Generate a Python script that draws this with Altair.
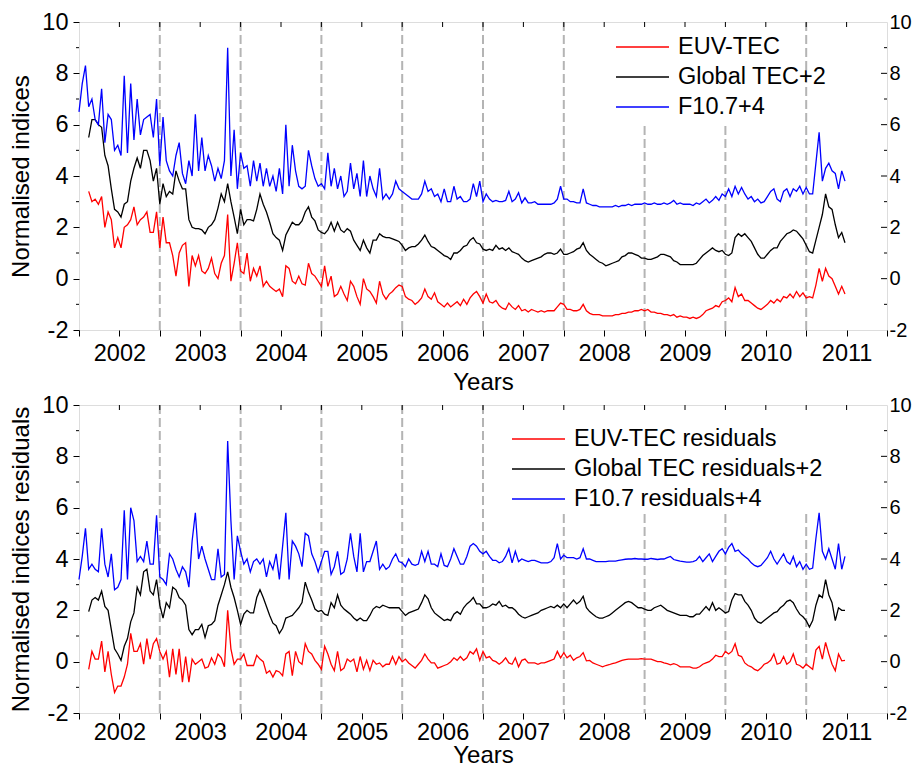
import altair as alt
import pandas as pd

# ---------------- data ----------------
START, STEP = 2002.0, 0.04   # sampling grid of the series (fractional years)

N = None
euv_tec = [
    N, N, N, 3.4, 3.0, 3.1, 2.9, 3.2, 2.0, 2.6,
    2.3, 1.2, 1.6, 1.2, 2.0, 2.1, 2.3, 2.8, 2.1, 2.3,
    2.4, 2.6, 1.8, 1.8, 2.6, 1.2, 2.4, 1.4, 1.4, 0.9,
    0.1, 1.0, 1.3, 1.4, -0.3, 0.9, 0.5, 0.9, 0.3, 0.2,
    0.4, 0.8, 0.2, 0.0, 0.6, 0.9, 2.5, -0.1, 0.6, 1.4,
    0.3, 0.2, 1.0, -0.1, 0.4, 0.1, 0.5, -0.3, -0.1, -0.3,
    -0.4, -0.5, -0.4, -0.7, 0.5, 0.4, -0.1, -0.2, 0.1, -0.2,
    -0.25, 0.6, 0.2, 0.1, -0.1, -0.3, 0.5, -0.3, 0.1, -0.7,
    -0.6, -0.3, -0.6, -0.85, -0.1, -0.3, -0.7, -1.0, 0.0, -0.4,
    -0.5, -0.7, -0.95, -0.1, -0.6, -0.8, -0.6, -0.5, -0.35, -0.25,
    -0.3, -0.7, -0.8, -0.85, -1.0, -0.9, -0.75, -0.4, -0.7, -0.8,
    -0.55, -0.9, -1.0, -1.1, -0.95, -1.1, -1.0, -0.9, -1.05, -0.8,
    -1.0, -0.75, -0.6, -0.5, -0.7, -0.95, -0.6, -0.9, -0.95, -0.85,
    -1.05, -1.15, -1.2, -0.95, -1.1, -1.2, -1.05, -1.25, -1.2, -1.3,
    -1.2, -1.25, -1.3, -1.25, -1.3, -1.25, -1.25, -1.25, -1.1, -0.95,
    -1.0, -1.2, -1.2, -1.25, -1.25, -1.2, -1.0, -1.25, -1.35, -1.4,
    -1.4, -1.4, -1.45, -1.45, -1.45, -1.45, -1.4, -1.4, -1.35, -1.35,
    -1.3, -1.3, -1.25, -1.25, -1.2, -1.25, -1.2, -1.3, -1.3, -1.35,
    -1.35, -1.4, -1.4, -1.45, -1.4, -1.5, -1.45, -1.5, -1.5, -1.55,
    -1.5, -1.55, -1.5, -1.4, -1.25, -1.2, -1.15, -1.05, -1.1, -0.9,
    -0.85, -0.75, -0.9, -0.35, -0.7, -0.6, -0.85, -0.85, -0.95, -1.05,
    -1.15, -1.2, -1.1, -1.0, -0.85, -0.95, -0.8, -0.9, -0.7, -0.75,
    -0.6, -0.75, -0.5, -0.7, -0.55, -0.75, -0.7, -0.75, -0.25, 0.4,
    -0.1, 0.4, 0.1, 0.0, -0.3, -0.6, -0.3, -0.6,
]

global_tec_p2 = [
    N, N, N, 5.5, 6.2, 6.2, 6.0, 5.9, 4.8, 4.4,
    3.5, 2.7, 2.6, 2.4, 2.9, 3.0, 3.8, 4.3, 4.7, 4.3,
    5.0, 5.0, 4.6, 3.8, 4.3, 2.9, 3.7, 3.2, 3.4, 3.3,
    4.2, 3.8, 3.5, 3.5, 2.3, 2.0, 1.95, 1.95, 1.9, 1.75,
    2.0, 2.1, 2.3, 2.75, 3.3, 3.0, 3.7, 3.0, 2.4, 1.75,
    2.7, 2.1, 2.3, 2.3, 2.25, 2.7, 3.3, 2.9, 2.6, 2.2,
    1.75, 1.6, 1.5, 1.1, 1.7, 1.95, 2.2, 2.1, 2.1, 2.25,
    2.6, 2.8, 2.4, 2.25, 1.9, 1.8, 1.75, 1.9, 2.2, 1.85,
    2.2, 1.9, 1.8, 1.95, 1.85, 1.5, 1.3, 1.1, 1.5, 1.2,
    1.0, 1.5, 1.5, 1.75, 1.65, 1.6, 1.6, 1.55, 1.5, 1.45,
    1.3, 1.1, 1.2, 1.25, 1.25, 1.35, 1.5, 1.7, 1.45, 1.25,
    1.2, 1.1, 1.0, 0.9, 0.85, 0.75, 1.0, 1.0, 1.1, 1.25,
    1.3, 1.5, 1.6, 1.4, 1.35, 1.15, 1.1, 1.15, 1.1, 1.3,
    1.15, 1.2, 1.1, 1.2, 1.05, 1.0, 0.95, 0.8, 0.7, 0.65,
    0.7, 0.75, 0.8, 0.85, 0.95, 1.0, 1.0, 0.95, 1.0, 1.15,
    0.95, 0.95, 1.0, 1.05, 1.15, 1.2, 1.4, 1.1, 0.95, 0.85,
    0.75, 0.65, 0.6, 0.5, 0.55, 0.6, 0.65, 0.7, 0.85, 0.9,
    1.0, 1.0, 0.95, 0.9, 0.8, 0.8, 0.75, 0.75, 0.8, 0.85,
    0.95, 0.95, 0.9, 0.85, 0.7, 0.65, 0.55, 0.55, 0.55, 0.55,
    0.55, 0.6, 0.75, 0.9, 1.0, 1.1, 1.2, 1.1, 1.05, 1.1,
    0.95, 0.9, 1.0, 1.6, 1.75, 1.65, 1.75, 1.6, 1.45, 1.2,
    0.95, 0.8, 0.8, 0.95, 1.1, 1.2, 1.2, 1.45, 1.6, 1.75,
    1.8, 1.9, 1.85, 1.7, 1.55, 1.3, 1.05, 1.0, 1.5, 2.0,
    2.5, 3.3, 2.8, 2.7, 2.1, 1.6, 1.8, 1.4,
]

f107_p4 = [
    6.5, 7.6, 8.3, 6.7, 7.0, 6.2, 6.0, 7.4, 5.3, 6.4,
    6.2, 5.0, 5.2, 4.8, 7.9, 4.9, 7.6, 5.4, 7.0, 5.6,
    6.2, 6.3, 6.4, 5.5, 7.0, 4.4, 6.3, 4.6, 4.2, 4.0,
    4.8, 5.3, 4.1, 3.7, 4.6, 4.0, 6.4, 4.2, 5.5, 4.2,
    4.8, 4.4, 3.8, 4.3, 3.9, 4.6, 9.0, 4.0, 5.8, 3.5,
    4.9, 4.3, 4.4, 3.6, 4.6, 3.8, 4.5, 3.6, 4.3, 3.6,
    4.0, 3.4, 4.3, 3.3, 6.0, 3.6, 5.2, 4.2, 3.6, 3.5,
    3.6, 5.0, 4.4, 3.9, 3.6, 3.7, 3.5, 4.9, 3.6, 4.3,
    3.5, 4.0, 3.2, 3.4, 4.5, 3.5, 4.1, 3.2, 4.6, 3.2,
    4.0, 3.5, 3.2, 4.3, 3.1, 3.3, 3.1, 3.3, 3.8, 3.5,
    3.4, 3.3, 3.2, 3.1, 3.1, 3.1, 3.3, 3.8, 3.4, 3.5,
    3.2, 3.3, 3.0, 3.5, 3.0, 3.0, 3.6, 3.1, 3.2, 3.0,
    3.0, 3.1, 3.7, 3.2, 3.8, 3.0, 3.3, 3.1, 3.0, 3.05,
    3.0, 3.0, 3.05, 3.4, 3.0, 3.1, 3.35, 2.95, 3.15, 2.95,
    2.95, 3.0, 2.9, 2.9, 2.9, 2.9, 2.9, 2.95, 3.1, 3.6,
    3.1, 3.1, 3.0, 3.0, 2.95, 2.95, 3.5, 2.95, 2.9, 2.85,
    2.85, 2.8, 2.8, 2.8, 2.8, 2.8, 2.85, 2.8, 2.85, 2.85,
    2.9, 2.85, 2.9, 2.9, 2.9, 2.95, 2.9, 2.9, 2.95, 2.9,
    2.9, 2.95, 2.9, 2.95, 3.05, 2.9, 2.95, 2.9, 2.9, 2.9,
    2.85, 2.95, 2.9, 3.0, 3.1, 2.95, 3.05, 3.2, 3.05, 3.3,
    3.2, 3.5, 3.2, 3.6, 3.3, 3.55, 3.3, 3.1, 3.2, 3.0,
    3.1, 2.95, 3.0, 3.2, 3.4, 3.5, 3.1, 3.0, 3.4, 3.5,
    3.2, 3.5, 3.4, 3.6, 3.3, 3.55, 3.3, 3.3, 4.5, 5.7,
    3.8, 4.3, 4.5, 4.2, 4.1, 3.5, 4.2, 3.8,
]

euv_res = [
    N, N, N, -0.3, 0.4, 0.1, 0.1, 0.8, -0.4, 0.4,
    -0.5, -1.2, -0.95, -0.95, -0.6, -0.1, 1.1, 0.4, 0.4, 0.7,
    -0.1, 0.9, 0.1, 0.7, 0.9, 0.4, 0.1, 0.4, -0.6, 0.5,
    -0.5, 0.5, -0.8, 0.2, -0.8, 0.1, -0.1, 0.0, 0.1, -0.25,
    -0.2, 0.15, -0.1, 0.3, 0.15, -0.2, 2.0, 0.5, -0.1, 0.1,
    0.1, 0.3, -0.15, -0.15, -0.15, 0.25, 0.1, 0.0, -0.45, -0.35,
    -0.6, -0.35, -0.4, -0.55, 0.3, 0.4, -0.55, 0.4, 0.0, -0.1,
    0.7, 0.4, 0.3, 0.05, -0.1, -0.3, 0.6, 0.3, -0.1, -0.35,
    0.4, -0.35, -0.25, 0.1, 0.0, 0.1, -0.4, 0.2, -0.3, 0.05,
    -0.35, 0.05, -0.1, -0.05, -0.2, -0.1, -0.1, 0.2, -0.1, 0.2,
    0.0, 0.1, -0.05, -0.15, -0.25, -0.1, 0.05, 0.3, 0.1, -0.05,
    -0.05, -0.25, -0.2, -0.15, -0.1, 0.0, 0.15, 0.05, 0.2, 0.05,
    0.15, 0.4, 0.3, 0.5, 0.05, 0.4, 0.15, 0.2, 0.05, 0.0,
    -0.1, 0.0, 0.15, -0.05, -0.1, 0.15, -0.2, 0.05, 0.1, -0.05,
    -0.05, -0.05, -0.1, -0.05, -0.05, 0.0, 0.05, 0.1, 0.4, 0.15,
    0.35, 0.15, 0.25, 0.05, 0.15, 0.2, 0.35, 0.03, 0.05, -0.05,
    -0.1, -0.15, -0.2, -0.15, -0.12, -0.08, -0.05, 0.0, 0.05, 0.08,
    0.1, 0.1, 0.1, 0.1, 0.12, 0.1, 0.1, 0.1, 0.05, 0.0,
    0.0, -0.05, -0.08, -0.12, -0.08, -0.12, -0.2, -0.2, -0.2, -0.2,
    -0.25, -0.25, -0.2, -0.1, -0.05, 0.0, 0.1, 0.25, 0.2, 0.2,
    0.4, 0.3, 0.4, 0.7, 0.25, 0.2, -0.05, -0.15, -0.2, -0.3,
    -0.35, -0.25, -0.1, -0.05, 0.05, 0.3, -0.1, -0.05, 0.2, -0.1,
    0.0, 0.3, -0.1, -0.15, -0.25, -0.1, -0.2, -0.3, 0.45, 0.6,
    0.1, 0.75, 0.3, -0.1, -0.35, 0.3, 0.03, 0.05,
]

gtec_res_p2 = [
    N, N, N, 1.95, 2.4, 2.5, 2.4, 2.75, 2.15, 2.0,
    1.25, 0.5, 0.3, 0.05, 0.6, 0.9, 1.55, 1.9, 2.9, 2.6,
    3.5, 3.6, 2.75, 2.6, 3.2, 2.2, 1.7, 2.3, 2.1, 2.9,
    2.8, 2.5, 2.4, 2.2, 1.25, 1.05, 1.25, 1.25, 1.45, 0.94,
    1.4, 1.45, 1.6, 2.2, 2.6, 3.0, 3.5, 2.9, 2.5, 2.0,
    1.45, 1.85, 2.0, 1.9, 1.9, 2.5, 2.8, 2.5, 2.15, 1.8,
    1.5, 1.4, 1.1, 1.3, 1.7, 1.75, 1.8, 1.95, 2.1, 2.3,
    3.1, 2.7, 2.4, 2.05, 1.95, 2.0, 1.85, 1.8, 2.3, 2.1,
    2.6, 2.2, 2.05, 1.95, 1.85, 1.7, 1.6, 1.7, 1.6, 1.6,
    1.8, 2.05, 2.15, 2.1, 2.2, 2.15, 2.1, 2.1, 2.1, 2.1,
    1.95, 1.8, 1.9, 1.95, 2.0, 2.05, 2.3, 2.6, 2.45, 2.1,
    1.9, 1.8, 1.7, 1.6, 1.65, 1.6, 1.85, 1.95, 1.85, 2.1,
    2.25, 2.35, 2.5, 2.25, 2.25, 2.1, 2.1, 2.15, 2.25, 2.2,
    2.35, 2.15, 2.2, 2.1, 2.1, 2.0, 1.85, 1.75, 1.7, 1.75,
    1.8, 1.85, 1.9, 2.0, 2.05, 2.1, 2.15, 2.1, 2.2, 2.1,
    2.25, 2.1, 2.25, 2.4, 2.25, 2.35, 2.55, 2.1, 1.95, 1.85,
    1.75, 1.7, 1.7, 1.75, 1.8, 1.9, 2.0, 2.1, 2.2, 2.3,
    2.35, 2.3, 2.2, 2.1, 2.1, 2.05, 2.0, 2.0, 2.1, 2.15,
    2.2, 2.1, 2.0, 1.95, 1.9, 1.85, 1.8, 1.8, 1.8, 1.75,
    1.75, 1.85, 1.85, 2.0, 2.15, 2.0, 2.3, 2.0, 2.1, 2.0,
    1.9, 1.95, 2.4, 2.65, 2.6, 2.6, 2.35, 2.2, 2.0, 1.7,
    1.55, 1.5, 1.6, 1.7, 1.8, 1.9, 1.95, 2.1, 2.2, 2.35,
    2.4, 2.3, 2.05, 1.85, 1.75, 1.6, 1.35, 1.6, 2.2, 2.6,
    2.5, 3.2, 2.6, 2.3, 1.6, 2.1, 2.0, 2.0,
]

f107_res_p4 = [
    3.2, 4.1, 5.2, 3.6, 3.8, 3.6, 3.5, 5.2, 3.8, 3.3,
    4.2, 2.8, 2.9, 3.2, 5.9, 3.2, 6.0, 5.5, 3.9, 4.1,
    3.9, 4.7, 3.8, 3.8, 5.7, 3.3, 3.2, 3.0, 4.2, 4.0,
    3.6, 3.3, 3.7, 3.5, 2.9, 4.7, 5.8, 4.0, 4.5, 4.0,
    3.6, 3.2, 3.2, 4.4, 3.3, 3.4, 8.6, 5.5, 3.2, 4.9,
    4.3, 3.8, 4.0, 3.5, 3.9, 4.0, 3.8, 4.0, 3.3, 3.9,
    3.6, 4.2, 3.2, 4.5, 5.8, 3.2, 4.7, 4.5, 4.2, 3.7,
    5.0, 4.9, 4.2, 3.9, 3.5, 3.9, 4.3, 4.3, 3.4, 3.7,
    4.3, 3.4, 3.5, 4.0, 5.0, 4.1, 3.5, 5.0, 3.5, 3.9,
    3.9, 4.3, 4.7, 3.6, 3.8, 3.6, 3.7, 4.0, 4.2, 3.9,
    3.85, 3.7, 4.0, 3.8, 3.75, 3.8, 4.3, 3.9, 4.3, 3.8,
    3.8, 3.7, 4.2, 3.75, 3.7, 4.0, 4.4, 4.1, 3.8, 3.8,
    4.1, 4.5, 4.6, 4.5, 4.3, 4.2, 4.3, 4.1, 3.95, 3.95,
    3.85, 3.9, 4.1, 4.4, 3.85, 4.3, 3.9, 4.0, 3.95, 3.9,
    3.95, 3.95, 3.9, 3.85, 3.85, 3.85, 3.9, 4.05, 4.6, 4.0,
    4.15, 4.05, 4.05, 4.05, 4.0, 4.05, 4.4, 4.0, 4.0, 3.95,
    3.9, 3.9, 3.9, 3.9, 3.92, 3.92, 3.92, 3.95, 3.97, 3.99,
    4.0, 4.0, 4.02, 4.0, 4.0, 3.99, 3.99, 4.02, 4.0, 3.98,
    4.0, 4.0, 4.05, 4.1, 3.98, 3.95, 3.92, 3.9, 3.88, 3.88,
    3.9, 3.95, 4.1, 3.9, 4.05, 4.2, 3.9, 4.1, 4.3, 4.4,
    4.2, 4.45, 4.6, 4.3, 4.35, 4.2, 4.1, 4.0, 3.85, 3.75,
    3.7, 3.75, 3.9, 4.05, 4.3, 4.0, 3.8, 4.0, 4.2, 3.9,
    3.8, 4.1, 3.7, 3.9, 3.6, 3.8, 3.6, 3.65, 4.8, 5.8,
    4.3, 4.0, 4.4, 4.0, 3.6, 4.6, 3.6, 4.1,
]

TOP_NAMES = ["EUV-TEC", "Global TEC+2", "F10.7+4"]
BOT_NAMES = ["EUV-TEC residuals", "Global TEC residuals+2", "F10.7 residuals+4"]
COLORS = ["#ff0000", "#000000", "#0000ff"]

YEAR_LINES = [2003, 2004, 2005, 2006, 2007, 2008, 2009, 2010, 2011]
TOP_DASH_FROM = [10, 10, 10, 10, 10, 10, 5.95, 5.95, 10]
BOT_DASH_FROM = [10, 10, 10, 10, 10, 5.75, 5.75, 5.75, 5.75]
HALF_YEARS = [2002.0 + 0.5 * k for k in range(21)]
Y_MAJOR = [-2, 0, 2, 4, 6, 8, 10]
Y_MINOR = [-1, 1, 3, 5, 7, 9]

# ---------------- chart ----------------
FONT = "Liberation Sans"
W, H = 808, 308
XS = alt.Scale(domain=[2002, 2012], nice=False, zero=False)
YS = alt.Scale(domain=[-2, 10], nice=False, zero=False)


def x_axis(label_pad, title_pad):
    return alt.Axis(
        values=HALF_YEARS,
        labelExpr="(datum.value % 1) == 0.5 ? '' + floor(datum.value) : ''",
        tickSize=6, tickColor="black", tickWidth=1, labelPadding=label_pad,
        domain=False, grid=False, labelFlush=False, labelOverlap=False,
        labelFont=FONT, labelFontSize=23.5, labelColor="black",
        title="Years", titleFont=FONT, titleFontSize=24, titleFontWeight="normal",
        titleColor="black", titlePadding=title_pad,
    )


def left_axis(title):
    return alt.Axis(
        values=Y_MAJOR, labelExpr="'' + datum.value",
        tickSize=6, tickColor="black", tickWidth=1, labelPadding=5,
        domain=False, grid=False, labelFlush=False, labelOverlap=False,
        labelFont=FONT, labelFontSize=23.5, labelColor="black",
        title=title, titleFont=FONT, titleFontSize=24, titleFontWeight="normal",
        titleColor="black", titlePadding=8,
    )


RIGHT_AXIS = alt.Axis(
    orient="right", values=Y_MAJOR, labelExpr="'' + datum.value",
    ticks=False, tickSize=0, labelPadding=2, domain=False, grid=False,
    labelFlush=False, labelOverlap=False,
    labelFont=FONT, labelFontSize=20, labelColor="black", title=None,
)


def series_frame(names, arrays):
    rows = []
    for name, arr in zip(names, arrays):
        for i, v in enumerate(arr):
            if v is not None:
                rows.append({"t": round(START + STEP * i, 4), "v": v, "s": name})
    return pd.DataFrame(rows)


def panel(df, names, ytitle, dash_from, lx, ly, label_pad, title_pad):
    xenc = alt.X("t:Q", scale=XS, axis=x_axis(label_pad, title_pad))
    dash_df = pd.DataFrame({"t": YEAR_LINES, "top": dash_from,
                            "bot": [-2] * len(YEAR_LINES)})
    dash = alt.Chart(dash_df).mark_rule(
        color="#b4b4b4", strokeWidth=2, strokeDash=[9, 4]
    ).encode(x=xenc, y=alt.Y("top:Q", scale=YS, axis=None), y2="bot:Q")

    lines = alt.Chart(df).mark_line(strokeWidth=1.3).encode(
        x=xenc,
        y=alt.Y("v:Q", scale=YS, axis=left_axis(ytitle)),
        color=alt.Color(
            "s:N",
            scale=alt.Scale(domain=names, range=COLORS),
            legend=alt.Legend(
                orient="none", legendX=lx, legendY=ly, title=None,
                symbolType="stroke", symbolSize=2809, symbolStrokeWidth=1.5,
                labelFont=FONT, labelFontSize=23.5, labelColor="black",
                labelOffset=8, labelLimit=600, clipHeight=24, rowPadding=6,
                padding=0,
            ),
        ),
    )

    top_ticks = alt.Chart(pd.DataFrame({"t": HALF_YEARS[1:-1]})).mark_rule(
        color="black", strokeWidth=1
    ).encode(x=xenc, y=alt.value(0), y2=alt.value(5))

    right_major = alt.Chart(pd.DataFrame({"v": Y_MAJOR[1:-1]})).mark_rule(
        color="black", strokeWidth=1
    ).encode(y=alt.Y("v:Q", scale=YS, axis=RIGHT_AXIS),
             x=alt.value(W), x2=alt.value(W - 6))

    right_minor = alt.Chart(pd.DataFrame({"v": Y_MINOR})).mark_rule(
        color="black", strokeWidth=1
    ).encode(y=alt.Y("v:Q", scale=YS, axis=None),
             x=alt.value(W), x2=alt.value(W - 3))

    left_minor = alt.Chart(pd.DataFrame({"v": Y_MINOR})).mark_rule(
        color="black", strokeWidth=1
    ).encode(y=alt.Y("v:Q", scale=YS, axis=None),
             x=alt.value(0), x2=alt.value(-3))

    return alt.layer(
        dash, lines, top_ticks, right_major, right_minor, left_minor
    ).resolve_scale(y="independent").properties(width=W, height=H)


top_df = series_frame(TOP_NAMES, [euv_tec, global_tec_p2, f107_p4])
bot_df = series_frame(BOT_NAMES, [euv_res, gtec_res_p2, f107_res_p4])

top = panel(top_df, TOP_NAMES, "Normalised indices", TOP_DASH_FROM,
            536, 13, 5, 6)
bottom = panel(bot_df, BOT_NAMES, "Normalised indices residuals", BOT_DASH_FROM,
               432, 22, 1.5, -1)

chart = (
    alt.vconcat(top, bottom, spacing=75)
    .resolve_scale(color="independent")
    .properties(bounds="flush",
                padding={"left": 1, "top": 1, "right": 0, "bottom": 0})
    .configure_view(stroke="black", strokeWidth=1.2)
    .configure(background="white")
)

chart.save("out.html", embed_options={"renderer": "svg", "actions": False})
